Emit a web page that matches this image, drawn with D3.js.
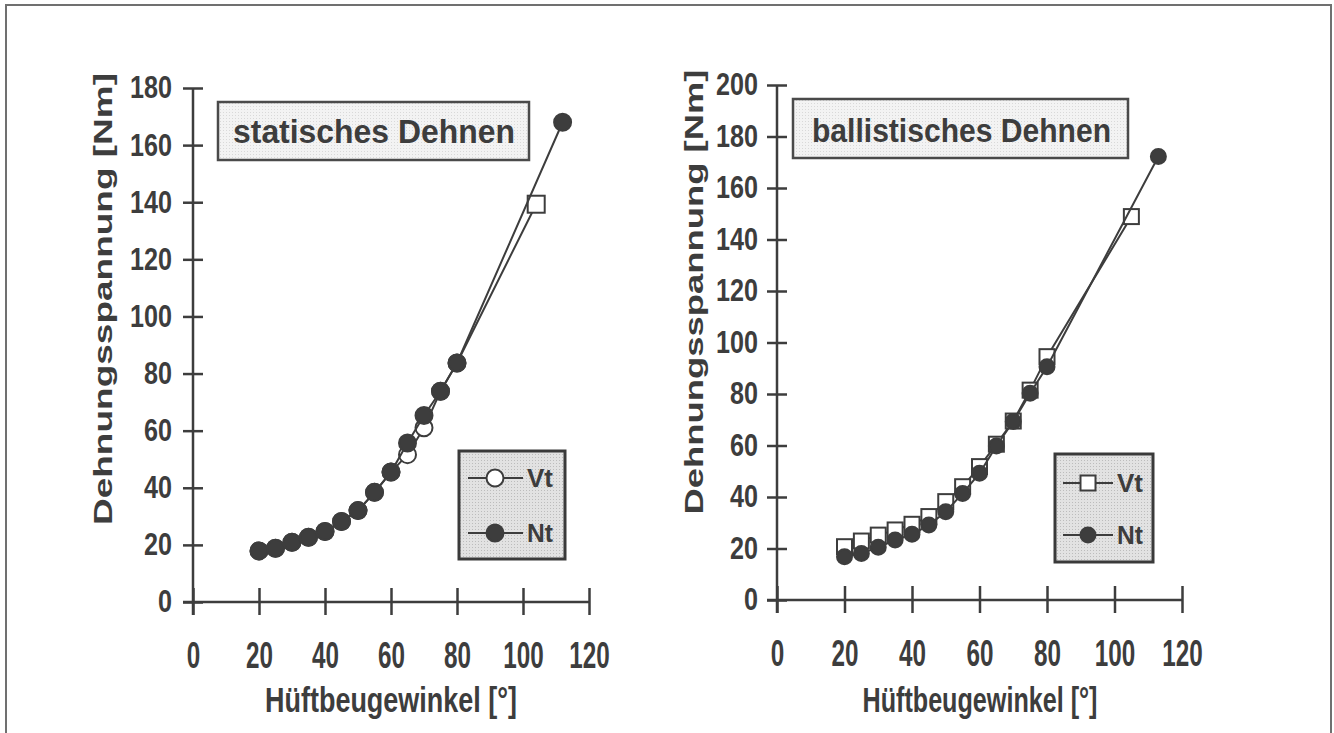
<!DOCTYPE html>
<html><head>
<meta charset="utf-8">
<title>Dehnungsspannung</title>
<script src="https://d3js.org/d3.v7.min.js"></script>
<style>
  body { margin: 0; background: #fff; }
  svg text {
    font-family: "Liberation Sans Narrow", "Arial Narrow", "Liberation Sans", Arial, sans-serif;
    font-weight: bold;
    fill: #3d3d3d;
  }
</style>
</head>
<body>
<svg id="chart" width="1334" height="733"></svg>

<script>
  // values
  const xTicks = [0, 20, 40, 60, 80, 100, 120];
  const yTicksStatic = [0, 20, 40, 60, 80, 100, 120, 140, 160, 180];
  const yTicksBallistic = [0, 20, 40, 60, 80, 100, 120, 140, 160, 180, 200];

  const staticVtX = [20, 25, 30, 35, 40, 45, 50, 55, 60, 65, 70, 75, 80, 104];
  const staticVtY = [17.9, 18.8, 20.9, 22.7, 24.7, 28.2, 32, 38.4, 45.5, 51.6, 61, 73.8, 83.7, 139.3];
  const staticVtShape = ["circle", "circle", "circle", "circle", "circle", "circle", "circle",
                         "circle", "circle", "circle", "circle", "circle", "circle", "square"];
  const staticNtX = [20, 25, 30, 35, 40, 45, 50, 55, 60, 65, 70, 75, 80, 112];
  const staticNtY = [17.9, 18.8, 20.9, 22.7, 24.7, 28.2, 32, 38.4, 45.5, 55.7, 65.3, 73.8, 83.7, 168];

  const ballisticVtX = [20, 25, 30, 35, 40, 45, 50, 55, 60, 65, 70, 75, 80, 105];
  const ballisticVtY = [20.7, 22.9, 25.2, 27.2, 29.4, 32.4, 38.2, 44, 51.8, 60.5, 69.5, 81.5, 94.5, 148.9];
  const ballisticNtX = [20, 25, 30, 35, 40, 45, 50, 55, 60, 65, 70, 75, 80, 113];
  const ballisticNtY = [16.8, 18.1, 20.5, 23.3, 25.5, 29.1, 34.3, 41.4, 49.2, 59.8, 69.3, 80.3, 90.6, 172.2];

  const seriesNames = ["Vt", "Nt"];
  const xTitle = "Hüftbeugewinkel [°]";
  const yTitle = "Dehnungsspannung [Nm]";

  const ink = "#3d3d3d";
  const svg = d3.select("#chart");

  // dotted screen fills for the boxes
  const defs = svg.append("defs");
  function dotPattern(id, base, dot) {
    const p = defs.append("pattern").attr("id", id)
      .attr("width", 3).attr("height", 3).attr("patternUnits", "userSpaceOnUse");
    p.append("rect").attr("width", 3).attr("height", 3).attr("fill", base);
    p.append("rect").attr("x", 1).attr("y", 1).attr("width", 1).attr("height", 1).attr("fill", dot);
  }
  dotPattern("lightDots", "#f3f3f3", "#d9d9d9");
  dotPattern("greyDots", "#e2e2e2", "#bcbcbc");

  // outer frame
  svg.append("rect").attr("x", 6).attr("y", 5).attr("width", 1325).attr("height", 760)
    .attr("fill", "none").attr("stroke", "#707070").attr("stroke-width", 2);

  function marker(g, shape, cx, cy, r, filled) {
    if (shape == "square") {
      g.append("rect").attr("x", cx - r).attr("y", cy - r).attr("width", 2 * r).attr("height", 2 * r)
        .attr("fill", filled ? ink : "#fff").attr("stroke", ink).attr("stroke-width", 2);
    } else {
      g.append("circle").attr("cx", cx).attr("cy", cy).attr("r", r)
        .attr("fill", filled ? ink : "#fff").attr("stroke", ink).attr("stroke-width", 2);
    }
  }

  function drawPanel(p) {
    const g = svg.append("g");
    const x = d3.scaleLinear().domain([0, 120]).range(p.xRange);
    const y = d3.scaleLinear().domain([0, p.yMax]).range(p.yRange);
    const x0 = x(0), y0 = y(0);

    // y axis: labels from d3, ticks crossing the line
    const yAxis = g.append("g").attr("transform", "translate(" + x0 + ",0)")
      .call(d3.axisLeft(y).tickValues(p.yTicks).tickSize(0).tickPadding(p.yPad));
    yAxis.select(".domain").remove();
    yAxis.selectAll(".tick text").attr("font-size", 31).attr("fill", ink)
      .attr("textLength", d => String(d).length * 14).attr("lengthAdjust", "spacingAndGlyphs");
    yAxis.selectAll(".tick").append("line").attr("x1", -10).attr("x2", 10)
      .attr("stroke", ink).attr("stroke-width", 2.5);
    g.append("line").attr("x1", x0).attr("x2", x0).attr("y1", y(p.yMax)).attr("y2", y0 + 13)
      .attr("stroke", ink).attr("stroke-width", 2.5);

    // x axis
    const xAxis = g.append("g").attr("transform", "translate(0," + y0 + ")")
      .call(d3.axisBottom(x).tickValues(xTicks).tickSize(0).tickPadding(0));
    xAxis.select(".domain").remove();
    xAxis.selectAll(".tick text").attr("font-size", 36).attr("fill", ink)
      .attr("y", 66).attr("dy", null)
      .attr("textLength", d => String(d).length * 13.5).attr("lengthAdjust", "spacingAndGlyphs");
    xAxis.selectAll(".tick").append("line").attr("y1", -14).attr("y2", 13)
      .attr("stroke", ink).attr("stroke-width", 2.5);
    g.append("line").attr("x1", x0 - 10).attr("x2", x(120)).attr("y1", y0).attr("y2", y0)
      .attr("stroke", ink).attr("stroke-width", 2.5);

    // axis titles
    g.append("text").attr("x", p.xTitle[0]).attr("y", 712).attr("text-anchor", "middle")
      .attr("font-size", 35).attr("textLength", p.xTitle[1]).attr("lengthAdjust", "spacingAndGlyphs")
      .text(xTitle);
    g.append("text")
      .attr("transform", "translate(" + p.yTitle[0] + "," + p.yTitle[1] + ") rotate(-90)")
      .attr("text-anchor", "middle").attr("font-size", 25)
      .style("font-family", "'Liberation Sans', Arial, sans-serif")
      .attr("textLength", p.yTitle[2]).attr("lengthAdjust", "spacingAndGlyphs")
      .text(yTitle);

    // panel title box
    const b = p.titleBox;
    g.append("rect").attr("x", b[0]).attr("y", b[1]).attr("width", b[2] - b[0]).attr("height", b[3] - b[1])
      .attr("fill", "url(#lightDots)").attr("stroke", "#4a4a4a").attr("stroke-width", 2.5);
    g.append("text").attr("x", p.titleText[0]).attr("y", p.titleText[1]).attr("font-size", 33)
      .attr("textLength", p.titleText[2]).attr("lengthAdjust", "spacingAndGlyphs")
      .text(p.title);

    // series
    const line = d3.line().x(d => x(d[0])).y(d => y(d[1]));
    const vt = d3.zip(p.vtX, p.vtY);
    const nt = d3.zip(p.ntX, p.ntY);
    g.append("path").datum(vt).attr("d", line).attr("fill", "none").attr("stroke", ink).attr("stroke-width", 2);
    vt.forEach((d, i) => marker(g, p.vtShape[i], x(d[0]), y(d[1]), p.r, false));
    g.append("path").datum(nt).attr("d", line).attr("fill", "none").attr("stroke", ink).attr("stroke-width", 2);
    nt.forEach(d => marker(g, "circle", x(d[0]), y(d[1]), p.r, true));

    // legend
    const L = p.legend;
    g.append("rect").attr("x", L.box[0]).attr("y", L.box[1]).attr("width", L.box[2] - L.box[0])
      .attr("height", L.box[3] - L.box[1])
      .attr("fill", "url(#greyDots)").attr("stroke", "#3a3a3a").attr("stroke-width", 3);
    seriesNames.forEach((name, i) => {
      const ry = L.rows[i];
      g.append("line").attr("x1", L.line[0]).attr("x2", L.line[1]).attr("y1", ry).attr("y2", ry)
        .attr("stroke", ink).attr("stroke-width", 2);
      marker(g, i == 0 ? L.vtShape : "circle", L.mark, ry, p.r, i == 1);
      g.append("text").attr("x", L.text).attr("y", ry + 9).attr("font-size", 26)
        .attr("textLength", 26).attr("lengthAdjust", "spacingAndGlyphs").text(name);
    });
  }

  drawPanel({
    xRange: [193, 589], yRange: [602, 88], yMax: 180, yTicks: yTicksStatic, yPad: 21,
    xTitle: [391, 252], yTitle: [112, 299, 452],
    titleBox: [218, 102, 529, 160], titleText: [233, 143, 282], title: "statisches Dehnen",
    vtX: staticVtX, vtY: staticVtY, vtShape: staticVtShape, ntX: staticNtX, ntY: staticNtY, r: 8.5,
    legend: { box: [459, 451, 565, 559], rows: [478, 533], line: [468, 523], mark: 495, text: 527, vtShape: "circle" }
  });

  drawPanel({
    xRange: [777, 1182], yRange: [600, 85], yMax: 200, yTicks: yTicksBallistic, yPad: 19,
    xTitle: [980, 235], yTitle: [703, 292, 445],
    titleBox: [793, 99, 1128, 158], titleText: [812, 142, 299], title: "ballistisches Dehnen",
    vtX: ballisticVtX, vtY: ballisticVtY, vtShape: ballisticVtX.map(() => "square"),
    ntX: ballisticNtX, ntY: ballisticNtY, r: 7.5,
    legend: { box: [1055, 454, 1153, 562], rows: [483, 535], line: [1063, 1113], mark: 1088, text: 1117, vtShape: "square" }
  });
</script>
</body>
</html>
